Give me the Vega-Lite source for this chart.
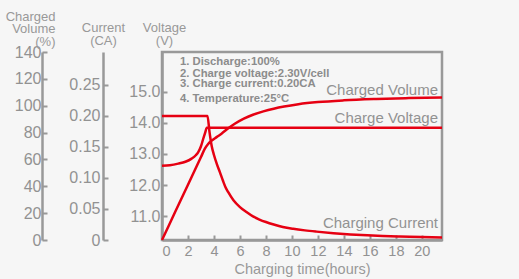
{
  "$schema": "https://vega.github.io/schema/vega-lite/v6.json",
  "width": 280,
  "height": 188,
  "autosize": "none",
  "padding": {"left": 162, "top": 52, "right": 77, "bottom": 39},
  "background": "#f6f6f6",
  "config": {
    "view": {"stroke": "#999999", "strokeWidth": 2.5},
    "axis": {
      "domainColor": "#999999", "domainWidth": 2.5,
      "tickColor": "#999999", "tickWidth": 2, "tickSize": -5,
      "labelColor": "#929292", "labelFont": "Liberation Sans", "labelFontSize": 16,
      "titleColor": "#999999", "titleFont": "Liberation Sans", "titleFontSize": 13, "titleFontWeight": "normal",
      "grid": false
    },
    "text": {"font": "Liberation Sans"}
  },
  "datasets": {
    "volume": [
      {"h": 0, "v": 0}, {"h": 1, "v": 20.6}, {"h": 2, "v": 41.2}, {"h": 3, "v": 61.8}, {"h": 3.3, "v": 68}, {"h": 3.55, "v": 71.5}, {"h": 3.8, "v": 73.8},
      {"h": 4.2, "v": 76.6}, {"h": 4.6, "v": 79.3}, {"h": 5.1, "v": 83.2}, {"h": 5.6, "v": 86.6},
      {"h": 6.3, "v": 90.4}, {"h": 7.0, "v": 93.3}, {"h": 7.8, "v": 95.8}, {"h": 8.6, "v": 97.8},
      {"h": 9.4, "v": 99.4}, {"h": 10.5, "v": 101.1}, {"h": 12, "v": 102.7}, {"h": 14, "v": 104},
      {"h": 16.5, "v": 105}, {"h": 19, "v": 105.7}, {"h": 21.55, "v": 106.2}
    ],
    "current": [
      {"h": 0, "c": 0.2}, {"h": 3.5, "c": 0.2}, {"h": 3.65, "c": 0.175}, {"h": 3.82, "c": 0.152},
      {"h": 4.0, "c": 0.137}, {"h": 4.23, "c": 0.122}, {"h": 4.46, "c": 0.109}, {"h": 4.7, "c": 0.095},
      {"h": 4.87, "c": 0.086}, {"h": 5.1, "c": 0.077}, {"h": 5.5, "c": 0.064}, {"h": 6.0, "c": 0.053},
      {"h": 6.5, "c": 0.045}, {"h": 7.0, "c": 0.038}, {"h": 7.5, "c": 0.033}, {"h": 8.0, "c": 0.029},
      {"h": 8.6, "c": 0.025}, {"h": 9.3, "c": 0.021}, {"h": 10.1, "c": 0.018}, {"h": 11, "c": 0.0155},
      {"h": 11.9, "c": 0.0135}, {"h": 13.2, "c": 0.011}, {"h": 14.5, "c": 0.009}, {"h": 15.8, "c": 0.0075},
      {"h": 17, "c": 0.0065}, {"h": 18.3, "c": 0.0056}, {"h": 20, "c": 0.0048}, {"h": 21.55, "c": 0.004}
    ],
    "voltage": [
      {"h": 0, "u": 12.62}, {"h": 0.6, "u": 12.64}, {"h": 1.25, "u": 12.69}, {"h": 1.8, "u": 12.75},
      {"h": 2.28, "u": 12.85}, {"h": 2.6, "u": 12.96}, {"h": 2.79, "u": 13.06}, {"h": 3.0, "u": 13.25},
      {"h": 3.18, "u": 13.5}, {"h": 3.33, "u": 13.7}, {"h": 3.45, "u": 13.85}, {"h": 21.55, "u": 13.85}
    ],
    "notes": [
      {"note": "1. Discharge:100%", "h": 1.38, "v": 130.3},
      {"note": "2. Charge voltage:2.30V/cell", "h": 1.38, "v": 121.6},
      {"note": "3. Charge current:0.20CA", "h": 1.38, "v": 113.7},
      {"note": "4. Temperature:25°C", "h": 1.38, "v": 103}
    ]
  },
  "encoding": {
    "x": {
      "field": "h", "type": "quantitative",
      "scale": {"domain": [0, 21.55], "nice": false, "zero": false},
      "axis": {
        "orient": "bottom", "values": [0, 2, 4, 6, 8, 10, 12, 14, 16, 18, 20],
        "labelFontSize": 14.5, "labelColor": "#929292", "labelFont": "Liberation Sans",
        "title": "Charging time(hours)", "titleFontSize": 14.5, "titleColor": "#999999", "titleFont": "Liberation Sans",
        "titleY": 33, "titleBaseline": "alphabetic", "labelPadding": 9
      }
    }
  },
  "layer": [
    {
      "data": {"name": "volume"},
      "encoding": {
        "y": {
          "field": "v", "type": "quantitative",
          "scale": {"domain": [0, 140], "nice": false},
          "axis": {
            "orient": "left", "offset": 120,
            "values": [0, 20, 40, 60, 80, 100, 120, 140],
            "labelFontSize": 16, "labelColor": "#929292", "labelFont": "Liberation Sans",
            "title": ["Charged", "Volume", "(%)"], "titleAngle": 0, "titleAlign": "right",
            "titleFontSize": 13, "titleColor": "#999999", "titleFont": "Liberation Sans",
            "titleX": 13, "titleY": -32, "titleBaseline": "alphabetic", "titleLineHeight": 12.5,
            "labelPadding": 6
          }
        }
      },
      "layer": [
        {"mark": {"type": "line", "color": "#e60012", "strokeWidth": 2.5, "interpolate": "monotone"}},
        {
          "transform": [{"filter": "datum.h == 21.55"}],
          "mark": {"type": "text", "align": "right", "baseline": "alphabetic", "dx": -4, "dy": -2, "fontSize": 15, "color": "#929292", "font": "Liberation Sans"},
          "encoding": {"text": {"value": "Charged Volume"}}
        },
        {
          "data": {"name": "notes"},
          "mark": {"type": "text", "align": "left", "baseline": "alphabetic", "fontSize": 11.3, "fontWeight": "bold", "color": "#8c8c8c", "font": "Liberation Sans"},
          "encoding": {
            "text": {"field": "note", "type": "nominal"}
          }
        }
      ]
    },
    {
      "data": {"name": "current"},
      "encoding": {
        "y": {
          "field": "c", "type": "quantitative",
          "scale": {"domain": [0, 0.303], "nice": false},
          "axis": {
            "orient": "left", "offset": 59,
            "values": [0, 0.05, 0.1, 0.15, 0.2, 0.25],
            "labelExpr": "datum.value == 0 ? '0' : format(datum.value, '.2f')",
            "labelFontSize": 16, "labelColor": "#929292", "labelFont": "Liberation Sans",
            "title": ["Current", "(CA)"], "titleAngle": 0, "titleAlign": "center",
            "titleFontSize": 13, "titleColor": "#999999", "titleFont": "Liberation Sans",
            "titleX": 0, "titleY": -21, "titleBaseline": "alphabetic", "titleLineHeight": 13,
            "labelPadding": 8
          }
        }
      },
      "layer": [
        {"mark": {"type": "line", "color": "#e60012", "strokeWidth": 2.5, "interpolate": "monotone"}},
        {
          "transform": [{"filter": "datum.h == 21.55"}],
          "mark": {"type": "text", "align": "right", "baseline": "alphabetic", "dx": -4, "dy": -10, "fontSize": 15, "color": "#929292", "font": "Liberation Sans"},
          "encoding": {"text": {"value": "Charging Current"}}
        }
      ]
    },
    {
      "data": {"name": "voltage"},
      "encoding": {
        "y": {
          "field": "u", "type": "quantitative",
          "scale": {"domain": [10.226, 16.29], "nice": false, "zero": false},
          "axis": {
            "orient": "left", "offset": 0,
            "values": [11, 12, 13, 14, 15], "format": ".1f",
            "labelFontSize": 16, "labelColor": "#929292", "labelFont": "Liberation Sans",
            "title": ["Voltage", "(V)"], "titleAngle": 0, "titleAlign": "center",
            "titleFontSize": 13, "titleColor": "#999999", "titleFont": "Liberation Sans",
            "titleX": 2, "titleY": -21, "titleBaseline": "alphabetic", "titleLineHeight": 13,
            "labelPadding": 7
          }
        }
      },
      "layer": [
        {"mark": {"type": "line", "color": "#e60012", "strokeWidth": 2.5, "interpolate": "monotone"}},
        {
          "transform": [{"filter": "datum.h == 21.55"}],
          "mark": {"type": "text", "align": "right", "baseline": "alphabetic", "dx": -4, "dy": -5, "fontSize": 15, "color": "#929292", "font": "Liberation Sans"},
          "encoding": {"text": {"value": "Charge Voltage"}}
        }
      ]
    }
  ],
  "resolve": {"scale": {"y": "independent"}, "axis": {"y": "independent"}}
}
